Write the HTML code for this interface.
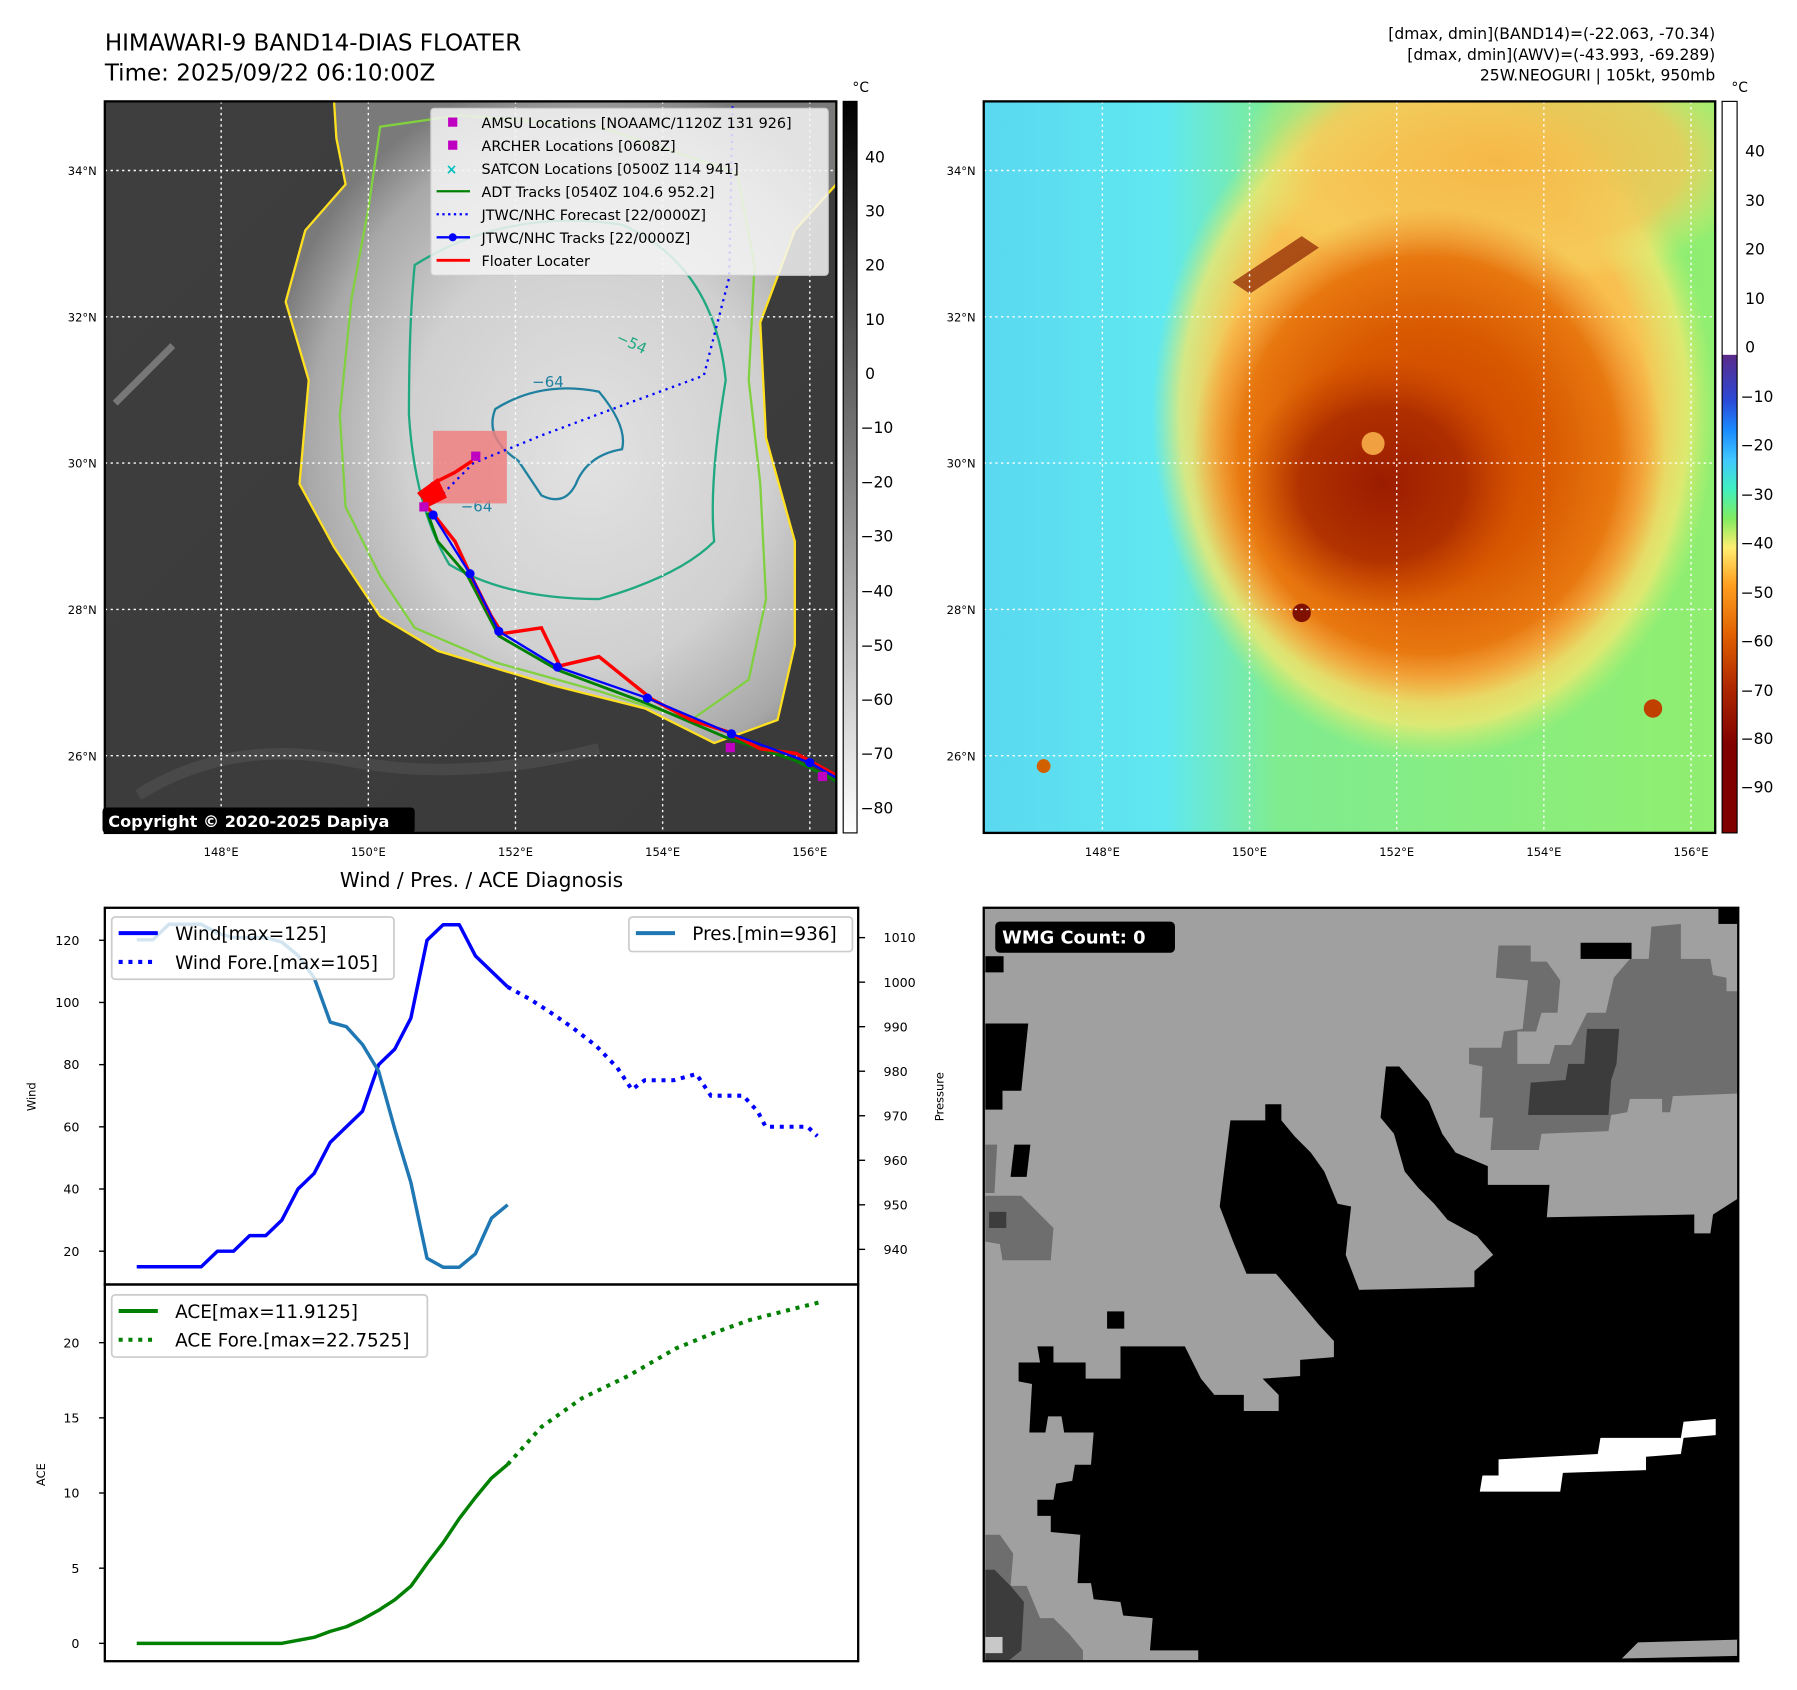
<!DOCTYPE html>
<html><head><meta charset="utf-8">
<style>
html,body{margin:0;padding:0;background:#fff;}
svg{display:block;font-family:"DejaVu Sans","Liberation Sans",sans-serif;}
</style></head>
<body>
<svg id="root" width="1797" height="1690" viewBox="0 0 1560 1467" preserveAspectRatio="none" xmlns="http://www.w3.org/2000/svg">
<defs>
  <radialGradient id="cloudG" cx="0.55" cy="0.55" r="0.6">
    <stop offset="0" stop-color="#e2e2e2"/>
    <stop offset="0.55" stop-color="#d0d0d0"/>
    <stop offset="0.85" stop-color="#a8a8a8"/>
    <stop offset="1" stop-color="#7a7a7a"/>
  </radialGradient>
  <linearGradient id="bgL" x1="0" y1="0" x2="1" y2="1">
    <stop offset="0" stop-color="#3e3e3e"/>
    <stop offset="1" stop-color="#3a3a3a"/>
  </linearGradient>
  <linearGradient id="cbGray" x1="0" y1="0" x2="0" y2="1">
    <stop offset="0" stop-color="#000"/>
    <stop offset="1" stop-color="#fff"/>
  </linearGradient>
  <linearGradient id="cbJet" x1="0" y1="0" x2="0" y2="1">
    <stop offset="0" stop-color="#ffffff"/>
    <stop offset="0.346" stop-color="#ffffff"/>
    <stop offset="0.347" stop-color="#5a2a8a"/>
    <stop offset="0.41" stop-color="#2a4ad8"/>
    <stop offset="0.45" stop-color="#1a8cff"/>
    <stop offset="0.49" stop-color="#40c8ff"/>
    <stop offset="0.53" stop-color="#40f0c0"/>
    <stop offset="0.57" stop-color="#80ec60"/>
    <stop offset="0.61" stop-color="#ffee70"/>
    <stop offset="0.66" stop-color="#ffa020"/>
    <stop offset="0.73" stop-color="#e06000"/>
    <stop offset="0.80" stop-color="#b02800"/>
    <stop offset="0.88" stop-color="#800000"/>
    <stop offset="1" stop-color="#800000"/>
  </linearGradient>
  <linearGradient id="bgR" x1="0" y1="0" x2="1" y2="0">
    <stop offset="0" stop-color="#5ad8f0"/>
    <stop offset="0.25" stop-color="#60e8f0"/>
    <stop offset="0.4" stop-color="#80ec90"/>
    <stop offset="1" stop-color="#90ee70"/>
  </linearGradient>
  <radialGradient id="fringeR" cx="0.5" cy="0.5" r="0.5">
    <stop offset="0" stop-color="#f5b040"/>
    <stop offset="0.75" stop-color="#f8c050"/>
    <stop offset="0.9" stop-color="#f0e870" stop-opacity="0.8"/>
    <stop offset="1" stop-color="#c8f070" stop-opacity="0"/>
  </radialGradient>
  <radialGradient id="topR" cx="0.5" cy="0.5" r="0.5">
    <stop offset="0" stop-color="#f5b848"/>
    <stop offset="0.7" stop-color="#f5c858" stop-opacity="0.8"/>
    <stop offset="1" stop-color="#f0e870" stop-opacity="0"/>
  </radialGradient>
  <radialGradient id="stormR" cx="0.5" cy="0.5" r="0.5">
    <stop offset="0" stop-color="#c84000"/>
    <stop offset="0.5" stop-color="#d85800"/>
    <stop offset="0.8" stop-color="#e87810"/>
    <stop offset="1" stop-color="#f09030" stop-opacity="0"/>
  </radialGradient>
  <radialGradient id="eyeR" cx="0.5" cy="0.5" r="0.5">
    <stop offset="0" stop-color="#9a1c00"/>
    <stop offset="0.6" stop-color="#a82800" stop-opacity="0.8"/>
    <stop offset="1" stop-color="#c04000" stop-opacity="0"/>
  </radialGradient>
  <clipPath id="clipL"><rect x="91" y="88" width="635" height="635"/></clipPath>
  <clipPath id="clipR"><rect x="854" y="88" width="635" height="635"/></clipPath>
</defs>

<!-- Titles -->
<text x="91" y="44" font-size="20">HIMAWARI-9 BAND14-DIAS FLOATER</text>
<text x="91" y="70" font-size="20">Time: 2025/09/22 06:10:00Z</text>
<g font-size="13.5" text-anchor="end">
  <text x="1489" y="34">[dmax, dmin](BAND14)=(-22.063, -70.34)</text>
  <text x="1489" y="52">[dmax, dmin](AWV)=(-43.993, -69.289)</text>
  <text x="1489" y="70">25W.NEOGURI | 105kt, 950mb</text>
</g>

<!-- LEFT MAP -->
<g clip-path="url(#clipL)">
  <rect x="91" y="88" width="635" height="635" fill="url(#bgL)"/>
  <path d="M120,690 Q200,640 300,660 Q400,680 520,650" stroke="#555" stroke-width="10" fill="none" opacity="0.5"/>
  <path d="M100,350 Q130,320 150,300" stroke="#777" stroke-width="6" fill="none"/>
  <path d="M290,88 L726,88 L726,160 L690,200 L660,280 L665,380 L690,470 L690,560 L675,625 L620,645 L560,615 L480,595 L380,565 L330,535 L290,475 L260,420 L268,330 L248,262 L265,200 L300,160 L292,120 Z" fill="url(#cloudG)" stroke="#ffe020" stroke-width="2"/>
  <path d="M330,110 L400,100 L520,110 L640,150 L655,230 L650,330 L660,420 L665,520 L650,590 L600,625 L520,600 L430,575 L360,545 L330,500 L300,440 L295,360 L305,260 L320,180 Z" fill="none" stroke="#80d040" stroke-width="2"/>
  <path d="M360,230 Q440,180 540,195 Q620,230 630,330 Q615,420 620,470 Q590,500 520,520 Q440,520 390,490 Q360,440 355,360 Q355,280 360,230 Z" fill="none" stroke="#20a880" stroke-width="2"/>
  <path d="M430,355 Q470,330 520,340 Q545,370 540,390 Q510,395 500,420 Q490,440 470,430 L450,400 Q420,380 430,355 Z" fill="none" stroke="#2080a0" stroke-width="2"/>
  <text x="534" y="296" font-size="13" fill="#20a880" transform="rotate(25 534 296)">−54</text>
  <text x="462" y="336" font-size="13" fill="#2080a0">−64</text>
  <text x="400" y="444" font-size="13" fill="#2080a0">−64</text>
  <g stroke="#fff" stroke-width="1.2" stroke-dasharray="2 3">
    <line x1="192" y1="88" x2="192" y2="723"/><line x1="319.75" y1="88" x2="319.75" y2="723"/><line x1="447.5" y1="88" x2="447.5" y2="723"/><line x1="575.25" y1="88" x2="575.25" y2="723"/><line x1="703" y1="88" x2="703" y2="723"/>
    <line x1="91" y1="148" x2="726" y2="148"/><line x1="91" y1="275" x2="726" y2="275"/><line x1="91" y1="402" x2="726" y2="402"/><line x1="91" y1="529" x2="726" y2="529"/><line x1="91" y1="656" x2="726" y2="656"/>
  </g>
  <rect x="376" y="374" width="64" height="63" fill="#f08080" opacity="0.85"/>
  <polyline points="376,437 411,402 470,378 540,352 611,326 633,241 636,88" fill="none" stroke="#0000ff" stroke-width="2" stroke-dasharray="2 4"/>
  <polyline points="726,678 690,660 630,640 560,610 485,582 433,552 406,500 380,470 371,445" fill="none" stroke="#008000" stroke-width="2.5"/>
  <polyline points="726,673 691,654 660,650 631,635 600,625 566,607 520,570 486,578 470,545 436,550 426,534 408,498 395,470 376,446 368,437 375,420 395,410 410,400" fill="none" stroke="#ff0000" stroke-width="3"/>
  <path d="M362,428 L380,415 L388,432 L372,440 Z" fill="#ff0000"/>
  <polyline points="726,675 703,662 635,637 562,606 484,579 433,548 408,498 376,447" fill="none" stroke="#0000ff" stroke-width="2"/>
  <g fill="#0000ff"><circle cx="703" cy="662" r="4"/><circle cx="635" cy="637" r="4"/><circle cx="562" cy="606" r="4"/><circle cx="484" cy="579" r="4"/><circle cx="433" cy="548" r="4"/><circle cx="408" cy="498" r="4"/><circle cx="376" cy="447" r="4"/></g>
  <g fill="#c000c0"><rect x="364" y="436" width="8" height="8"/><rect x="409" y="392" width="8" height="8"/><rect x="630" y="645" width="8" height="8"/><rect x="710" y="670" width="8" height="8"/></g>
</g>
<rect x="91" y="88" width="635" height="635" fill="none" stroke="#000" stroke-width="2"/>
<g>
  <rect x="374" y="94" width="345" height="145" rx="3" fill="#f4f4f4" fill-opacity="0.85" stroke="#ccc"/>
  <g font-size="12.5">
  <rect x="389" y="102" width="8" height="8" fill="#c000c0"/><text x="418" y="111">AMSU Locations [NOAAMC/1120Z 131 926]</text>
  <rect x="389" y="122" width="8" height="8" fill="#c000c0"/><text x="418" y="131">ARCHER Locations [0608Z]</text>
  <text x="387" y="151" fill="#00c0c0" font-weight="bold" font-size="12">×</text><text x="418" y="151">SATCON Locations [0500Z 114 941]</text>
  <line x1="379" y1="166" x2="408" y2="166" stroke="#008000" stroke-width="2"/><text x="418" y="171">ADT Tracks [0540Z 104.6 952.2]</text>
  <line x1="379" y1="186" x2="408" y2="186" stroke="#0000ff" stroke-width="2" stroke-dasharray="2 3"/><text x="418" y="191">JTWC/NHC Forecast [22/0000Z]</text>
  <line x1="379" y1="206" x2="408" y2="206" stroke="#0000ff" stroke-width="2"/><circle cx="393" cy="206" r="3.5" fill="#0000ff"/><text x="418" y="211">JTWC/NHC Tracks [22/0000Z]</text>
  <line x1="379" y1="226" x2="408" y2="226" stroke="#ff0000" stroke-width="2.5"/><text x="418" y="231">Floater Locater</text>
  </g>
</g>
<g>
  <rect x="89" y="701" width="271" height="22" rx="3" fill="#000"/>
  <text x="94" y="718" font-size="14" font-weight="bold" fill="#fff">Copyright © 2020-2025 Dapiya</text>
</g>
<g font-size="10" text-anchor="end">
  <text x="84" y="152">34°N</text><text x="84" y="279">32°N</text><text x="84" y="406">30°N</text><text x="84" y="533">28°N</text><text x="84" y="660">26°N</text>
</g>
<g font-size="10" text-anchor="middle">
  <text x="192" y="743">148°E</text><text x="319.75" y="743">150°E</text><text x="447.5" y="743">152°E</text><text x="575.25" y="743">154°E</text><text x="703" y="743">156°E</text>
</g>
<g>
  <rect x="732" y="88" width="12" height="635" fill="url(#cbGray)" stroke="#000" stroke-width="1"/>
  <text x="740" y="80" font-size="12">°C</text>
  <g font-size="13.5">
  <text x="751" y="141">40</text><text x="751" y="188">30</text><text x="751" y="235">20</text><text x="751" y="282">10</text><text x="751" y="329">0</text>
  <text x="747" y="376">−10</text><text x="747" y="423">−20</text><text x="747" y="470">−30</text><text x="747" y="518">−40</text><text x="747" y="565">−50</text><text x="747" y="612">−60</text><text x="747" y="659">−70</text><text x="747" y="706">−80</text>
  </g>
</g>

<!-- RIGHT MAP -->
<g clip-path="url(#clipR)">
  <rect x="854" y="88" width="635" height="635" fill="url(#bgR)"/>
  <ellipse cx="1245" cy="360" rx="245" ry="300" fill="url(#fringeR)"/>
  <ellipse cx="1300" cy="140" rx="230" ry="110" fill="url(#topR)"/>
  <ellipse cx="1240" cy="395" rx="205" ry="215" fill="url(#stormR)"/>
  <ellipse cx="1200" cy="420" rx="120" ry="110" fill="url(#eyeR)"/>
  <circle cx="1192" cy="385" r="10" fill="#f0a040"/>
  <path d="M1070,245 L1130,205 L1145,215 L1085,255 Z" fill="#8a2000" opacity="0.7"/>
  <circle cx="1130" cy="532" r="8" fill="#801000"/>
  <circle cx="1435" cy="615" r="8" fill="#c04000"/>
  <circle cx="906" cy="665" r="6" fill="#d06000"/>
  <g stroke="#fff" stroke-width="1.2" stroke-dasharray="2 3">
    <line x1="957" y1="88" x2="957" y2="723"/><line x1="1084.75" y1="88" x2="1084.75" y2="723"/><line x1="1212.5" y1="88" x2="1212.5" y2="723"/><line x1="1340.25" y1="88" x2="1340.25" y2="723"/><line x1="1468" y1="88" x2="1468" y2="723"/>
    <line x1="854" y1="148" x2="1489" y2="148"/><line x1="854" y1="275" x2="1489" y2="275"/><line x1="854" y1="402" x2="1489" y2="402"/><line x1="854" y1="529" x2="1489" y2="529"/><line x1="854" y1="656" x2="1489" y2="656"/>
  </g>
</g>
<rect x="854" y="88" width="635" height="635" fill="none" stroke="#000" stroke-width="2"/>
<g font-size="10" text-anchor="end">
  <text x="847" y="152">34°N</text><text x="847" y="279">32°N</text><text x="847" y="406">30°N</text><text x="847" y="533">28°N</text><text x="847" y="660">26°N</text>
</g>
<g font-size="10" text-anchor="middle">
  <text x="957" y="743">148°E</text><text x="1084.75" y="743">150°E</text><text x="1212.5" y="743">152°E</text><text x="1340.25" y="743">154°E</text><text x="1468" y="743">156°E</text>
</g>
<g>
  <rect x="1495" y="88" width="13" height="635" fill="url(#cbJet)" stroke="#000" stroke-width="1"/>
  <text x="1503" y="80" font-size="12">°C</text>
  <g font-size="13.5">
  <text x="1515" y="136">40</text><text x="1515" y="179">30</text><text x="1515" y="221">20</text><text x="1515" y="264">10</text><text x="1515" y="306">0</text>
  <text x="1511" y="349">−10</text><text x="1511" y="391">−20</text><text x="1511" y="434">−30</text><text x="1511" y="476">−40</text><text x="1511" y="519">−50</text><text x="1511" y="561">−60</text><text x="1511" y="604">−70</text><text x="1511" y="646">−80</text><text x="1511" y="688">−90</text>
  </g>
</g>

<!-- BOTTOM RIGHT WMG -->
<svg x="854" y="788" width="655" height="654" viewBox="35 100 1407 1400" preserveAspectRatio="none">
  <rect x="35" y="100" width="1407" height="1400" fill="#a0a0a0"/>
  <g fill="#6e6e6e">
    <path d="M995,170 L1055,170 L1055,200 L1085,200 L1110,235 L1105,295 L1075,295 L1065,330 L1030,330 L1030,390 L1090,390 L1100,355 L1130,355 L1160,295 L1195,295 L1210,230 L1240,195 L1275,195 L1280,135 L1335,130 L1335,195 L1390,195 L1395,225 L1420,230 L1420,255 L1442,255 L1442,445 L1320,450 L1315,480 L1300,480 L1300,455 L1240,455 L1235,480 L1205,485 L1200,515 L1075,520 L1070,550 L980,550 L985,490 L960,490 L965,395 L940,390 L940,360 L1000,360 L1005,330 L1040,325 L1050,235 L990,230 Z"/>
    <path d="M38,540 L60,540 L55,630 L38,630 Z"/>
    <path d="M38,635 L105,635 L135,665 L165,695 L160,755 L70,755 L65,725 L38,720 Z"/>
    <path d="M38,1265 L65,1265 L90,1300 L85,1360 L115,1360 L140,1420 L165,1420 L195,1450 L220,1480 L220,1500 L38,1500 Z"/>
  </g>
  <g fill="#3c3c3c">
    <path d="M1160,325 L1220,325 L1215,390 L1205,420 L1200,485 L1050,485 L1055,425 L1120,420 L1125,390 L1155,390 Z"/>
    <rect x="45" y="665" width="32" height="30"/>
    <path d="M38,1330 L55,1330 L85,1360 L110,1390 L105,1480 L80,1500 L38,1500 Z"/>
  </g>
  <rect x="38" y="1455" width="32" height="30" fill="#c8c8c8"/>
  <g fill="#000">
    <path d="M100,945 L165,945 L165,915 L135,915 L140,945 L225,945 L225,975 L290,975 L290,915 L410,915 L440,975 L465,1005 L520,1005 L520,1035 L585,1035 L585,1005 L555,975 L625,970 L625,940 L688,935 L688,905 L660,875 L635,845 L610,815 L580,780 L525,780 L500,720 L475,655 L495,495 L560,495 L560,465 L590,465 L590,495 L615,525 L645,555 L670,590 L695,650 L720,655 L710,745 L735,810 L950,805 L950,775 L985,745 L955,710 L900,680 L875,650 L845,620 L820,590 L800,520 L775,490 L785,395 L810,395 L840,430 L865,460 L890,520 L915,555 L975,580 L975,615 L1090,615 L1085,675 L1360,670 L1360,705 L1390,705 L1395,670 L1442,640 L1442,1500 L435,1500 L435,1480 L345,1480 L350,1420 L295,1415 L290,1390 L240,1385 L235,1355 L210,1355 L215,1265 L160,1260 L160,1230 L135,1230 L135,1200 L165,1200 L170,1170 L200,1165 L205,1135 L235,1135 L240,1075 L185,1075 L180,1045 L155,1045 L150,1075 L120,1075 L125,985 L100,980 Z"/>
    <path d="M38,315 L118,315 L105,440 L70,440 L70,475 L38,475 Z"/>
    <rect x="38" y="190" width="34" height="30"/>
    <path d="M92,540 L122,540 L115,600 L85,600 Z"/>
    <rect x="265" y="850" width="32" height="32"/>
    <rect x="1405" y="100" width="37" height="30"/>
    <rect x="1148" y="165" width="95" height="30"/>
  </g>
  <path fill="#fff" d="M995,1125 L1180,1115 L1185,1085 L1335,1085 L1340,1055 L1400,1050 L1400,1080 L1340,1085 L1335,1115 L1270,1120 L1270,1145 L1115,1150 L1110,1185 L960,1185 L965,1155 L995,1155 Z"/>
  <path fill="#a0a0a0" d="M1255,1465 L1442,1460 L1442,1490 L1225,1495 Z"/>
</svg>
<rect x="854" y="788" width="655" height="654" fill="none" stroke="#000" stroke-width="2"/>
<g>
  <rect x="864" y="800" width="156" height="27" rx="4" fill="#000"/>
  <text x="870" y="819" font-size="15.5" font-weight="bold" fill="#fff">WMG Count: 0</text>
</g>

<!-- BOTTOM LEFT CHART -->
<text x="418" y="770" font-size="17.5" text-anchor="middle">Wind / Pres. / ACE Diagnosis</text>
<g id="chart"></g>
</svg>

<script>
const windObs = [15,15,15,15,15,20,20,25,25,30,40,45,55,60,65,80,85,95,120,125,125,115,110,105];
const windFcstX = [23,24.4,25.6,27,28.5,29.8,30.7,31.5,33.3,34.7,35.6,37.6,38.5,39,41.6,42.2];
const windFcstY = [105,101,97,92,86,79,72,75,75,77,70,70,65,60,60,57];
const presObs = [1009.5,1009.5,1013,1013,1013,1011,1010,1010,1010,1009,1006,1001,991,990,986,980,967,955,938,936,936,939,947,950];
const aceObs = [0,0,0,0,0,0,0,0,0,0,0.2,0.4,0.8,1.1,1.6,2.2,2.9,3.8,5.3,6.7,8.3,9.7,11.0,11.9];
const aceFcstX = [23,25.1,27.6,30.5,33.4,35.9,38,40.9,42.6];
const aceFcstY = [11.9,14.4,16.3,17.8,19.6,20.7,21.5,22.3,22.75];
const windTicks = [20,40,60,80,100,120];
const presTicks = [940,950,960,970,980,990,1000,1010];
const aceTicks = [0,5,10,15,20];

const NS = 'http://www.w3.org/2000/svg';
const g = document.getElementById('chart');
const X0 = 91, X1 = 745, T0 = 788, T1 = 1115, B1 = 1442;
function xs(i){ return 118.7 + i*14.0; }
function yWind(v){ return 1086.1 - (v-20)*(1086.1-816.2)/100; }
function yPres(v){ return 1084.5 - (v-940)*(1084.5-813.9)/70; }
function yAce(v){ return 1426.5 - v*(1426.5-1165.5)/20; }
function mk(tag, attrs){ const e=document.createElementNS(NS,tag); for(const k in attrs) e.setAttribute(k,attrs[k]); g.appendChild(e); return e; }
function pts(xa, ya, fy){ return xa.map((x,i)=>xs(x).toFixed(1)+','+fy(ya[i]).toFixed(1)).join(' '); }
const idx = windObs.map((_,i)=>i);

let e = mk('rect',{x:X0,y:T0,width:X1-X0,height:T1-T0,fill:'none',stroke:'#000','stroke-width':2});


e = mk('rect',{x:X0,y:T1,width:X1-X0,height:B1-T1,fill:'none',stroke:'#000','stroke-width':2});



windTicks.forEach(v=>{
  const y=yWind(v);
  let t=mk('line',{x1:X0-5,x2:X0,y1:y,y2:y,stroke:'#000','stroke-width':1.2});
  
  
  let l=mk('text',{x:X0-22,y:y+4,'font-size':11,'text-anchor':'end'}); l.textContent=v;
  
  
});
presTicks.forEach(v=>{
  const y=yPres(v);
  let t=mk('line',{x1:X1,x2:X1+6,y1:y,y2:y,stroke:'#000','stroke-width':1.2});
  
  
  let l=mk('text',{x:X1+22,y:y+4,'font-size':11}); l.textContent=v;
  
  
});
aceTicks.forEach(v=>{
  const y=yAce(v);
  let t=mk('line',{x1:X0-5,x2:X0,y1:y,y2:y,stroke:'#000','stroke-width':1.2});
  
  
  let l=mk('text',{x:X0-22,y:y+4,'font-size':11,'text-anchor':'end'}); l.textContent=v;
  
  
});
let a=mk('text',{x:31,y:952,'font-size':10,'text-anchor':'middle',transform:'rotate(-90 31 952)'}); a.textContent='Wind';


a=mk('text',{x:819,y:952,'font-size':10,'text-anchor':'middle',transform:'rotate(-90 819 952)'}); a.textContent='Pressure';


a=mk('text',{x:39,y:1280,'font-size':10,'text-anchor':'middle',transform:'rotate(-90 39 1280)'}); a.textContent='ACE';



let s=mk('polyline',{points:pts(idx,windObs,yWind),fill:'none',stroke:'#0000ff','stroke-width':3,'stroke-linejoin':'round'});


s=mk('polyline',{points:pts(windFcstX,windFcstY,yWind),fill:'none',stroke:'#0000ff','stroke-width':3.5,'stroke-dasharray':'3.5 5'});


s=mk('polyline',{points:pts(idx,presObs,yPres),fill:'none',stroke:'#1f77b4','stroke-width':3,'stroke-linejoin':'round'});


s=mk('polyline',{points:pts(idx,aceObs,yAce),fill:'none',stroke:'#008000','stroke-width':3,'stroke-linejoin':'round'});


s=mk('polyline',{points:pts(aceFcstX,aceFcstY,yAce),fill:'none',stroke:'#008000','stroke-width':3.5,'stroke-dasharray':'3.5 5'});



function legend(name,x,y,w,h,items){
  const r=mk('rect',{x:x,y:y,width:w,height:h,rx:3,fill:'#fff','fill-opacity':0.8,stroke:'#ccc','stroke-width':1.5});
  
  
  items.forEach((it,i)=>{
    const yy=y+14+i*25;
    const ln=mk('line',{x1:x+6,x2:x+40,y1:yy,y2:yy,stroke:it.c,'stroke-width':3.5,'stroke-dasharray':it.d||'none'});
    
    
    const t=mk('text',{x:x+55,y:yy+6,'font-size':16}); t.textContent=it.t;
    
    
  });
}
legend('wind-legend',97,796,245,54,[{c:'#0000ff',t:'Wind[max=125]'},{c:'#0000ff',d:'3.5 5',t:'Wind Fore.[max=105]'}]);
legend('pressure-legend',546,796,194,30,[{c:'#1f77b4',t:'Pres.[min=936]'}]);
legend('ace-legend',97,1124,274,54,[{c:'#008000',t:'ACE[max=11.9125]'},{c:'#008000',d:'3.5 5',t:'ACE Fore.[max=22.7525]'}]);
</script>
</body></html>
